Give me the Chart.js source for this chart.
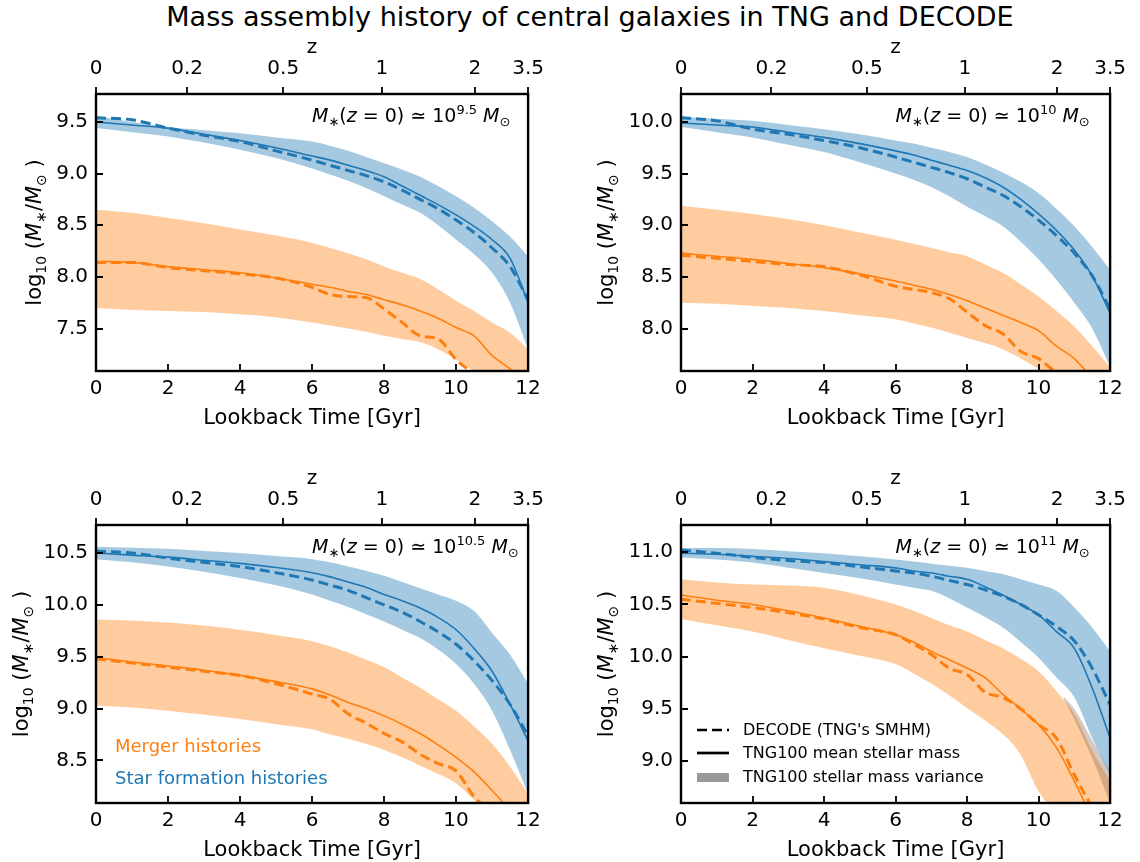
<!DOCTYPE html>
<html>
<head>
<meta charset="utf-8">
<script src="https://cdn.jsdelivr.net/npm/chart.js@4.4.0/dist/chart.umd.min.js"></script>
<style>
  body { margin: 0; background: #fff; width: 1140px; height: 862px; position: relative; overflow: hidden; font-family: "DejaVu Sans", sans-serif; }
  #title { position: absolute; left: 40px; width: 1100px; top: 1px; text-align: center; font-size: 27px; line-height: 32px; color: #000; }
  canvas { position: absolute; }
</style>
</head>
<body>
<div id="title">Mass assembly history of central galaxies in TNG and DECODE</div>
<canvas id="p1"></canvas>
<canvas id="p2"></canvas>
<canvas id="p3"></canvas>
<canvas id="p4"></canvas>
<script>
// ---- data ----
const lookback = [0, 1, 2, 3, 4, 5, 6, 6.5, 7, 7.5, 8, 8.5, 9, 9.5, 10, 10.5, 11, 11.5, 12];
const xTicks = [0, 2, 4, 6, 8, 10, 12];
const zTickPos = [0, 2.53, 5.2, 7.94, 10.52, 12];
const zTickLabels = ['0', '0.2', '0.5', '1', '2', '3.5'];

// panel 1: M*(z=0) ~ 10^9.5
const p1Range = [7.09, 9.77];
const p1YTicks = [7.5, 8.0, 8.5, 9.0, 9.5];
const p1SfhUpper = [9.56, 9.50, 9.45, 9.42, 9.39, 9.35, 9.31, 9.27, 9.22, 9.16, 9.10, 9.04, 8.97, 8.88, 8.78, 8.67, 8.54, 8.39, 8.20];
const p1SfhLower = [9.44, 9.40, 9.36, 9.30, 9.23, 9.15, 9.05, 8.99, 8.93, 8.86, 8.78, 8.70, 8.62, 8.50, 8.36, 8.22, 8.04, 7.75, 7.30];
const p1SfhMean = [9.50, 9.47, 9.44, 9.38, 9.32, 9.25, 9.17, 9.13, 9.08, 9.03, 8.97, 8.88, 8.79, 8.70, 8.60, 8.49, 8.36, 8.18, 7.75];
const p1SfhDecode = [9.54, 9.52, 9.44, 9.37, 9.31, 9.22, 9.13, 9.08, 9.03, 8.98, 8.92, 8.84, 8.75, 8.66, 8.55, 8.43, 8.28, 8.10, 7.78];
const p1MergUpper = [8.65, 8.62, 8.57, 8.52, 8.46, 8.40, 8.33, 8.28, 8.23, 8.17, 8.10, 8.04, 7.98, 7.88, 7.77, 7.67, 7.56, 7.46, 7.30];
const p1MergLower = [7.70, 7.68, 7.67, 7.66, 7.64, 7.61, 7.56, 7.53, 7.50, 7.47, 7.43, 7.40, 7.37, 7.30, 7.20, 7.09, 6.95, 6.80, 6.60];
const p1MergMean = [8.15, 8.14, 8.10, 8.07, 8.04, 7.99, 7.93, 7.90, 7.86, 7.83, 7.78, 7.73, 7.67, 7.60, 7.51, 7.43, 7.24, 7.11, 6.95];
const p1MergDecode = [8.14, 8.14, 8.09, 8.06, 8.03, 7.99, 7.90, 7.83, 7.81, 7.80, 7.69, 7.56, 7.43, 7.40, 7.20, 7.06, 6.90, 6.75, 6.60];

// panel 2: M*(z=0) ~ 10^10
const p2Range = [7.59, 10.27];
const p2YTicks = [8.0, 8.5, 9.0, 9.5, 10.0];
const p2SfhUpper = [10.05, 10.03, 10.01, 9.97, 9.93, 9.88, 9.82, 9.79, 9.75, 9.71, 9.66, 9.59, 9.51, 9.42, 9.31, 9.16, 8.99, 8.79, 8.57];
const p2SfhLower = [9.95, 9.90, 9.85, 9.78, 9.71, 9.61, 9.50, 9.44, 9.37, 9.28, 9.18, 9.09, 8.99, 8.84, 8.67, 8.47, 8.25, 8.00, 7.63];
const p2SfhMean = [9.99, 9.97, 9.95, 9.90, 9.85, 9.79, 9.72, 9.68, 9.63, 9.58, 9.53, 9.46, 9.37, 9.25, 9.11, 8.95, 8.76, 8.51, 8.15];
const p2SfhDecode = [10.04, 10.01, 9.93, 9.88, 9.82, 9.75, 9.66, 9.61, 9.56, 9.51, 9.45, 9.37, 9.29, 9.18, 9.05, 8.90, 8.73, 8.51, 8.19];
const p2MergUpper = [9.19, 9.15, 9.11, 9.06, 9.00, 8.93, 8.86, 8.82, 8.78, 8.74, 8.70, 8.62, 8.54, 8.43, 8.31, 8.17, 8.02, 7.83, 7.63];
const p2MergLower = [8.25, 8.24, 8.22, 8.20, 8.17, 8.13, 8.09, 8.05, 8.01, 7.96, 7.91, 7.86, 7.80, 7.71, 7.61, 7.50, 7.38, 7.25, 7.10];
const p2MergMean = [8.73, 8.70, 8.67, 8.63, 8.59, 8.53, 8.46, 8.42, 8.38, 8.33, 8.27, 8.20, 8.13, 8.06, 7.98, 7.83, 7.71, 7.52, 7.35];
const p2MergDecode = [8.71, 8.68, 8.65, 8.62, 8.60, 8.52, 8.41, 8.38, 8.35, 8.29, 8.16, 8.03, 7.95, 7.78, 7.71, 7.57, 7.45, 7.30, 7.10];

// panel 3: M*(z=0) ~ 10^10.5
const p3Range = [8.09, 10.77];
const p3YTicks = [8.5, 9.0, 9.5, 10.0, 10.5];
const p3SfhUpper = [10.56, 10.55, 10.54, 10.52, 10.50, 10.47, 10.44, 10.41, 10.37, 10.33, 10.28, 10.22, 10.16, 10.10, 10.04, 9.94, 9.73, 9.52, 9.24];
const p3SfhLower = [10.44, 10.41, 10.37, 10.32, 10.26, 10.19, 10.10, 10.04, 9.98, 9.91, 9.84, 9.76, 9.68, 9.57, 9.43, 9.24, 8.98, 8.60, 8.18];
const p3SfhMean = [10.50, 10.48, 10.46, 10.43, 10.40, 10.36, 10.31, 10.27, 10.22, 10.17, 10.10, 10.04, 9.97, 9.88, 9.76, 9.58, 9.36, 9.04, 8.69];
const p3SfhDecode = [10.52, 10.50, 10.45, 10.41, 10.37, 10.31, 10.24, 10.19, 10.14, 10.07, 10.00, 9.93, 9.84, 9.74, 9.62, 9.46, 9.27, 9.04, 8.74];
const p3MergUpper = [9.86, 9.85, 9.83, 9.80, 9.76, 9.71, 9.65, 9.60, 9.54, 9.47, 9.40, 9.30, 9.20, 9.09, 8.98, 8.83, 8.66, 8.44, 8.18];
const p3MergLower = [9.03, 9.01, 8.98, 8.94, 8.90, 8.85, 8.80, 8.75, 8.71, 8.66, 8.60, 8.53, 8.45, 8.37, 8.28, 8.12, 7.98, 7.85, 7.70];
const p3MergMean = [9.49, 9.45, 9.41, 9.37, 9.32, 9.26, 9.19, 9.13, 9.06, 9.00, 8.93, 8.85, 8.76, 8.65, 8.53, 8.39, 8.21, 8.02, 7.80];
const p3MergDecode = [9.48, 9.44, 9.40, 9.36, 9.32, 9.24, 9.14, 9.09, 8.95, 8.86, 8.76, 8.68, 8.56, 8.47, 8.40, 8.15, 8.00, 7.85, 7.70];

// panel 4: M*(z=0) ~ 10^11
const p4Range = [8.60, 11.26];
const p4YTicks = [9.0, 9.5, 10.0, 10.5, 11.0];
const p4SfhUpper = [11.04, 11.04, 11.03, 11.01, 10.99, 10.96, 10.93, 10.91, 10.89, 10.87, 10.85, 10.82, 10.79, 10.74, 10.69, 10.63, 10.47, 10.28, 10.05];
const p4SfhLower = [10.95, 10.93, 10.90, 10.85, 10.80, 10.75, 10.69, 10.66, 10.63, 10.56, 10.47, 10.38, 10.28, 10.14, 9.99, 9.80, 9.61, 9.22, 8.87];
const p4SfhMean = [10.99, 10.98, 10.96, 10.94, 10.91, 10.88, 10.85, 10.82, 10.80, 10.77, 10.74, 10.67, 10.59, 10.50, 10.40, 10.24, 10.08, 9.70, 9.22];
const p4SfhDecode = [11.02, 10.99, 10.95, 10.92, 10.90, 10.86, 10.82, 10.80, 10.77, 10.73, 10.69, 10.64, 10.58, 10.50, 10.40, 10.29, 10.15, 9.89, 9.54];
const p4MergUpper = [10.74, 10.71, 10.69, 10.68, 10.66, 10.59, 10.50, 10.44, 10.37, 10.30, 10.24, 10.16, 10.08, 9.98, 9.86, 9.67, 9.45, 9.10, 8.81];
const p4MergLower = [10.36, 10.30, 10.24, 10.16, 10.08, 10.01, 9.93, 9.84, 9.74, 9.63, 9.51, 9.39, 9.26, 9.06, 8.71, 8.50, 8.30, 8.10, 7.90];
const p4MergMean = [10.59, 10.54, 10.50, 10.44, 10.37, 10.29, 10.21, 10.14, 10.05, 9.97, 9.89, 9.80, 9.64, 9.50, 9.35, 9.13, 8.81, 8.45, 8.10];
const p4MergDecode = [10.55, 10.51, 10.47, 10.42, 10.36, 10.28, 10.21, 10.12, 10.02, 9.89, 9.83, 9.66, 9.61, 9.50, 9.35, 9.22, 8.87, 8.55, 8.20];
// TNG100 variance patch (panel 4 only)
const p4VarLookback = [10.7, 11, 11.5, 12];
const p4VarUpper = [9.62, 9.50, 9.20, 8.90];
const p4VarLower = [9.60, 9.40, 9.03, 8.60];

const massExponents = ['9.5', '10', '10.5', '11'];
const xTitle = 'Lookback Time [Gyr]';
const noteTexts = ['Merger histories', 'Star formation histories'];
const legendTexts = ["DECODE (TNG's SMHM)", 'TNG100 mean stellar mass', 'TNG100 stellar mass variance'];

// ---- styling ----
const BLUE = '#1f77b4';
const ORANGE = '#ff7f0e';
const BLUE_FILL = 'rgba(31, 119, 180, 0.4)';
const ORANGE_FILL = 'rgba(255, 127, 14, 0.4)';
const GREY_FILL = 'rgba(128, 100, 80, 0.35)';
const FONT = '"DejaVu Sans"';

// plot area of each panel in page pixels [left, top, right, bottom]
const areas = [
    [96, 94, 531, 371],
    [681, 94, 1113, 371],
    [96, 525, 531, 803],
    [681, 525, 1113, 803]
];
const PAD_L = 96, PAD_T = 60, PAD_B = 60, PAD_R = 26;

function pts(xs, ys) {
    return xs.map((x, i) => ({ x: x, y: ys[i] }));
}

function band(xs, lower, upper, color, order) {
    return [
        { data: pts(xs, lower), borderColor: 'transparent', borderWidth: 0, pointRadius: 0, fill: false, order: order, cubicInterpolationMode: 'monotone' },
        { data: pts(xs, upper), borderColor: 'transparent', borderWidth: 0, backgroundColor: color, pointRadius: 0, fill: '-1', order: order, cubicInterpolationMode: 'monotone' }
    ];
}

function line(ys, color, dashed) {
    return {
        data: pts(lookback, ys),
        borderColor: color,
        borderWidth: dashed ? 3 : 1.6,
        borderDash: dashed ? [10, 5] : [],
        pointRadius: 0,
        fill: false,
        cubicInterpolationMode: 'monotone',
        order: 1
    };
}

function drawRich(ctx, x, y, parts, align) {
    let w = 0;
    parts.forEach(p => {
        ctx.font = p.font;
        p.w = ctx.measureText(p.text).width;
        w += p.w;
    });
    let cx = align === 'center' ? x - w / 2 : (align === 'right' ? x - w : x);
    ctx.textBaseline = 'alphabetic';
    ctx.textAlign = 'left';
    parts.forEach(p => {
        ctx.font = p.font;
        ctx.fillStyle = p.color || '#000';
        ctx.fillText(p.text, cx, y + (p.dy || 0));
        cx += p.w;
    });
}

const reg = s => s + 'px ' + FONT;
const ita = s => 'italic ' + s + 'px ' + FONT;

function massParts(exp) {
    return [
        { text: 'M', font: ita(19) },
        { text: '\u2217', font: reg(13), dy: 4 },
        { text: '(', font: reg(19) },
        { text: 'z', font: ita(19) },
        { text: ' = ', font: reg(19) },
        { text: '0', font: reg(19) },
        { text: ')', font: reg(19) },
        { text: ' \u2243 ', font: reg(19) },
        { text: '10', font: reg(19) },
        { text: exp, font: reg(13), dy: -8 },
        { text: ' ', font: reg(19) },
        { text: 'M', font: ita(19) },
        { text: '\u2299', font: reg(13), dy: 4 }
    ];
}

const yLabelParts = [
    { text: 'log', font: reg(21) },
    { text: '10', font: reg(14), dy: 5 },
    { text: ' (', font: reg(21) },
    { text: 'M', font: ita(21) },
    { text: '\u2217', font: reg(14), dy: 5 },
    { text: '/', font: reg(21) },
    { text: 'M', font: ita(21) },
    { text: '\u2299', font: reg(14), dy: 5 },
    { text: ' )', font: reg(21) }
];

// frame, inward ticks, y label, annotations
const decor = {
    id: 'decor',
    afterDraw(chart, args, opts) {
        const { ctx, chartArea: a, scales } = chart;
        ctx.save();
        ctx.strokeStyle = '#000';
        ctx.lineWidth = 1.8;
        ctx.beginPath();
        scales.y.ticks.forEach(t => {
            const y = Math.round(scales.y.getPixelForValue(t.value));
            ctx.moveTo(a.left, y); ctx.lineTo(a.left + 7, y);
        });
        scales.x.ticks.forEach(t => {
            const x = Math.round(scales.x.getPixelForValue(t.value));
            ctx.moveTo(x, a.bottom); ctx.lineTo(x, a.bottom - 7);
        });
        scales.x2.ticks.forEach(t => {
            const x = Math.round(scales.x2.getPixelForValue(t.value));
            ctx.moveTo(x, a.top); ctx.lineTo(x, a.top - 7);
        });
        ctx.stroke();
        ctx.lineWidth = 2.4;
        ctx.strokeRect(a.left, a.top, a.right - a.left, a.bottom - a.top);

        // M*(z=0) annotation
        drawRich(ctx, a.left + 0.5 * (a.right - a.left), a.top + 0.1 * (a.bottom - a.top), massParts(opts.exponent), 'left');

        // y axis label, placed beyond the widest tick label
        ctx.font = reg(20);
        const maxW = Math.max(...scales.y.ticks.map(t => ctx.measureText(t.label).width));
        const cx = a.left - 8 - maxW - 22;
        ctx.save();
        ctx.translate(cx, (a.top + a.bottom) / 2);
        ctx.rotate(-Math.PI / 2);
        drawRich(ctx, 0, 7, yLabelParts, 'center');
        ctx.restore();

        if (opts.notes) {
            ctx.font = reg(18);
            ctx.textAlign = 'left';
            ctx.textBaseline = 'alphabetic';
            ctx.fillStyle = ORANGE;
            ctx.fillText(noteTexts[0], a.left + 19, a.bottom - 51);
            ctx.fillStyle = BLUE;
            ctx.fillText(noteTexts[1], a.left + 19, a.bottom - 19);
        }

        if (opts.legend) {
            const x0 = a.left + 16, x1 = a.left + 48, tx = a.left + 62;
            const rows = [a.bottom - 73, a.bottom - 50, a.bottom - 26];
            ctx.strokeStyle = '#000';
            ctx.lineWidth = 2.7;
            ctx.setLineDash([10, 5]);
            ctx.beginPath(); ctx.moveTo(x0, rows[0]); ctx.lineTo(x1, rows[0]); ctx.stroke();
            ctx.setLineDash([]);
            ctx.beginPath(); ctx.moveTo(x0, rows[1]); ctx.lineTo(x1, rows[1]); ctx.stroke();
            ctx.fillStyle = 'rgba(128, 128, 128, 0.8)';
            ctx.fillRect(x0, rows[2] - 4, x1 - x0, 9);
            ctx.fillStyle = '#000';
            ctx.font = reg(16);
            ctx.textBaseline = 'middle';
            legendTexts.forEach((t, i) => ctx.fillText(t, tx, rows[i] + 1));
        }
        ctx.restore();
    }
};

function makePanel(idx, range, yTicks, sfh, merg, extra) {
    const [L, T, R, B] = areas[idx];
    const canvas = document.getElementById('p' + (idx + 1));
    const w = (R - L) + PAD_L + PAD_R;
    const h = (B - T) + PAD_T + PAD_B;
    canvas.width = w; canvas.height = h;
    canvas.style.left = (L - PAD_L) + 'px';
    canvas.style.top = (T - PAD_T) + 'px';
    canvas.style.width = w + 'px';
    canvas.style.height = h + 'px';

    const datasets = [
        ...band(lookback, merg.lower, merg.upper, ORANGE_FILL, 6),
        ...band(lookback, sfh.lower, sfh.upper, BLUE_FILL, 5),
        line(merg.mean, ORANGE, false),
        line(merg.decode, ORANGE, true),
        line(sfh.mean, BLUE, false),
        line(sfh.decode, BLUE, true)
    ];
    if (extra && extra.variance) {
        datasets.push(...band(p4VarLookback, p4VarLower, p4VarUpper, GREY_FILL, 4));
    }

    const tickFont = { family: FONT, size: 20 };
    new Chart(canvas.getContext('2d'), {
        type: 'line',
        data: { datasets: datasets },
        options: {
            responsive: false,
            animation: false,
            events: [],
            layout: { padding: { left: 0, top: 0, right: PAD_R, bottom: 0 } },
            plugins: {
                legend: { display: false },
                tooltip: { enabled: false },
                decor: {
                    exponent: massExponents[idx],
                    notes: extra && extra.notes,
                    legend: extra && extra.variance
                }
            },
            scales: {
                x: {
                    type: 'linear', position: 'bottom', min: 0, max: 12,
                    afterBuildTicks: s => { s.ticks = xTicks.map(v => ({ value: v })); },
                    afterFit: s => { s.height = PAD_B; },
                    ticks: { autoSkip: false, maxRotation: 0, padding: 6, color: '#000', font: tickFont, callback: v => String(v) },
                    grid: { display: false, drawTicks: false },
                    border: { display: false },
                    title: { display: true, text: xTitle, color: '#000', font: { family: FONT, size: 21 }, padding: { top: 0, bottom: 0 } }
                },
                x2: {
                    type: 'linear', position: 'top', min: 0, max: 12,
                    afterBuildTicks: s => { s.ticks = zTickPos.map(v => ({ value: v })); },
                    afterFit: s => { s.height = PAD_T; },
                    ticks: { autoSkip: false, maxRotation: 0, padding: 13, color: '#000', font: tickFont, callback: (v, i) => zTickLabels[i] },
                    grid: { display: false, drawTicks: false },
                    border: { display: false },
                    title: { display: true, text: 'z', color: '#000', font: { family: FONT, size: 20 }, padding: { top: 2, bottom: 0 } }
                },
                y: {
                    type: 'linear', position: 'left', min: range[0], max: range[1],
                    afterBuildTicks: s => { s.ticks = yTicks.map(v => ({ value: v })); },
                    afterFit: s => { s.width = PAD_L; },
                    ticks: { autoSkip: false, padding: 8, color: '#000', font: tickFont, callback: v => v.toFixed(1) },
                    grid: { display: false, drawTicks: false },
                    border: { display: false }
                }
            }
        },
        plugins: [decor]
    });
}

makePanel(0, p1Range, p1YTicks,
    { upper: p1SfhUpper, lower: p1SfhLower, mean: p1SfhMean, decode: p1SfhDecode },
    { upper: p1MergUpper, lower: p1MergLower, mean: p1MergMean, decode: p1MergDecode });
makePanel(1, p2Range, p2YTicks,
    { upper: p2SfhUpper, lower: p2SfhLower, mean: p2SfhMean, decode: p2SfhDecode },
    { upper: p2MergUpper, lower: p2MergLower, mean: p2MergMean, decode: p2MergDecode });
makePanel(2, p3Range, p3YTicks,
    { upper: p3SfhUpper, lower: p3SfhLower, mean: p3SfhMean, decode: p3SfhDecode },
    { upper: p3MergUpper, lower: p3MergLower, mean: p3MergMean, decode: p3MergDecode },
    { notes: true });
makePanel(3, p4Range, p4YTicks,
    { upper: p4SfhUpper, lower: p4SfhLower, mean: p4SfhMean, decode: p4SfhDecode },
    { upper: p4MergUpper, lower: p4MergLower, mean: p4MergMean, decode: p4MergDecode },
    { variance: true });
</script>
</body>
</html>
